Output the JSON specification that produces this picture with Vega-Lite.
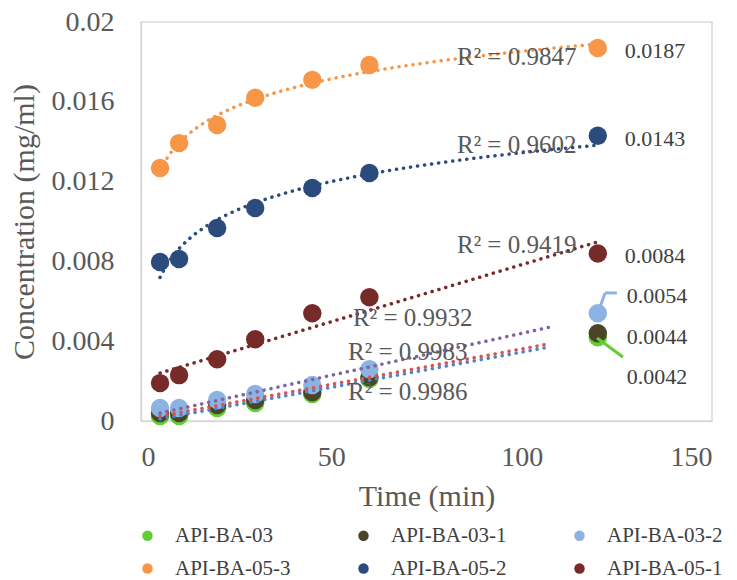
{
  "$schema": "https://vega.github.io/schema/vega-lite/v6.json",
  "width": 571,
  "height": 399,
  "autosize": "none",
  "padding": {"left": 141, "top": 22, "right": 25, "bottom": 159},
  "background": "white",
  "config": {
    "font": "Liberation Serif",
    "view": {"stroke": "#d9d9d9", "strokeWidth": 1.5},
    "axis": {"grid": false, "ticks": false, "domainColor": "#d9d9d9", "domainWidth": 1.5, "labelFont": "Liberation Serif", "titleFont": "Liberation Serif", "labelColor": "#595959", "titleColor": "#595959", "labelFontSize": 28, "titleFontSize": 30, "titleFontWeight": "normal"}
  },
  "datasets": {
    "pts": [
      {"s": "API-BA-03", "t": 5, "c": 0.00025},
      {"s": "API-BA-03", "t": 10, "c": 0.00025},
      {"s": "API-BA-03", "t": 20, "c": 0.00065},
      {"s": "API-BA-03", "t": 30, "c": 0.0009},
      {"s": "API-BA-03", "t": 45, "c": 0.00135},
      {"s": "API-BA-03", "t": 60, "c": 0.0021},
      {"s": "API-BA-03", "t": 120, "c": 0.0042},
      {"s": "API-BA-03-1", "t": 5, "c": 0.0004},
      {"s": "API-BA-03-1", "t": 10, "c": 0.0004},
      {"s": "API-BA-03-1", "t": 20, "c": 0.0008},
      {"s": "API-BA-03-1", "t": 30, "c": 0.00105},
      {"s": "API-BA-03-1", "t": 45, "c": 0.00145},
      {"s": "API-BA-03-1", "t": 60, "c": 0.0022},
      {"s": "API-BA-03-1", "t": 120, "c": 0.0044},
      {"s": "API-BA-03-2", "t": 5, "c": 0.00065},
      {"s": "API-BA-03-2", "t": 10, "c": 0.00065},
      {"s": "API-BA-03-2", "t": 20, "c": 0.00105},
      {"s": "API-BA-03-2", "t": 30, "c": 0.00135},
      {"s": "API-BA-03-2", "t": 45, "c": 0.0018},
      {"s": "API-BA-03-2", "t": 60, "c": 0.0026},
      {"s": "API-BA-03-2", "t": 120, "c": 0.0054},
      {"s": "API-BA-05-3", "t": 5, "c": 0.01268},
      {"s": "API-BA-05-3", "t": 10, "c": 0.01393},
      {"s": "API-BA-05-3", "t": 20, "c": 0.01484},
      {"s": "API-BA-05-3", "t": 30, "c": 0.0162},
      {"s": "API-BA-05-3", "t": 45, "c": 0.0171},
      {"s": "API-BA-05-3", "t": 60, "c": 0.01784},
      {"s": "API-BA-05-3", "t": 120, "c": 0.0187},
      {"s": "API-BA-05-2", "t": 5, "c": 0.00797},
      {"s": "API-BA-05-2", "t": 10, "c": 0.00812},
      {"s": "API-BA-05-2", "t": 20, "c": 0.00967},
      {"s": "API-BA-05-2", "t": 30, "c": 0.01068},
      {"s": "API-BA-05-2", "t": 45, "c": 0.01168},
      {"s": "API-BA-05-2", "t": 60, "c": 0.01243},
      {"s": "API-BA-05-2", "t": 120, "c": 0.0143},
      {"s": "API-BA-05-1", "t": 5, "c": 0.0019},
      {"s": "API-BA-05-1", "t": 10, "c": 0.0023},
      {"s": "API-BA-05-1", "t": 20, "c": 0.0031},
      {"s": "API-BA-05-1", "t": 30, "c": 0.0041},
      {"s": "API-BA-05-1", "t": 45, "c": 0.0054},
      {"s": "API-BA-05-1", "t": 60, "c": 0.0062},
      {"s": "API-BA-05-1", "t": 120, "c": 0.0084}
    ]
  },
  "layer": [
    {
      "data": {"name": "pts"},
      "mark": {"type": "point", "filled": true, "opacity": 1, "shape": "circle"},
      "encoding": {
        "x": {"field": "t", "type": "quantitative", "scale": {"domain": [0, 150], "nice": false}, "axis": {"values": [0, 50, 100, 150], "title": "Time (min)", "labelPadding": 22, "titlePadding": 10}},
        "y": {"field": "c", "type": "quantitative", "scale": {"domain": [0, 0.02], "nice": false}, "axis": {"values": [0, 0.004, 0.008, 0.012, 0.016, 0.02], "format": "~g", "title": "Concentration (mg/ml)", "labelPadding": 27, "titlePadding": 12}},
        "fill": {"field": "s", "type": "nominal", "scale": {"domain": ["API-BA-03", "API-BA-03-1", "API-BA-03-2", "API-BA-05-3", "API-BA-05-2", "API-BA-05-1"], "range": ["#62cc33", "#4a4428", "#8db3e2", "#f79646", "#2a4b7c", "#772b29"]},
          "legend": {"title": null, "orient": "none", "legendX": -4, "legendY": 503, "direction": "horizontal", "columns": 3, "symbolType": "circle", "symbolSize": 110, "symbolStrokeWidth": 0, "labelFont": "Liberation Serif", "labelFontSize": 21, "labelColor": "#404040", "labelOffset": 17, "columnPadding": 62, "rowPadding": 11, "labelLimit": 300}},
        "size": {"value": 340}
      }
    },
    {
      "data": {"name": "pts"},
      "transform": [
        {"filter": "datum.s === 'API-BA-05-3' || datum.s === 'API-BA-05-2'"},
        {"regression": "c", "on": "t", "groupby": ["s"], "method": "log"}
      ],
      "mark": {"type": "line", "strokeDash": [0.1, 7], "strokeCap": "round", "strokeWidth": 3.5},
      "encoding": {
        "x": {"field": "t", "type": "quantitative"},
        "y": {"field": "c", "type": "quantitative"},
        "stroke": {"field": "s", "type": "nominal", "scale": {"domain": ["API-BA-03", "API-BA-03-1", "API-BA-03-2", "API-BA-05-3", "API-BA-05-2", "API-BA-05-1"], "range": ["#4a86d0", "#d9534f", "#8064a2", "#f79646", "#2a4b7c", "#772b29"]}, "legend": null}
      }
    },
    {
      "data": {"name": "pts"},
      "transform": [
        {"filter": "datum.s === 'API-BA-05-1'"},
        {"regression": "c", "on": "t", "groupby": ["s"], "method": "linear"}
      ],
      "mark": {"type": "line", "strokeDash": [0.1, 7], "strokeCap": "round", "strokeWidth": 3.5},
      "encoding": {
        "x": {"field": "t", "type": "quantitative"},
        "y": {"field": "c", "type": "quantitative"},
        "stroke": {"field": "s", "type": "nominal", "legend": null}
      }
    },
    {
      "data": {"name": "pts"},
      "transform": [
        {"filter": "datum.s === 'API-BA-03' || datum.s === 'API-BA-03-1' || datum.s === 'API-BA-03-2'"},
        {"regression": "c", "on": "t", "groupby": ["s"], "method": "linear", "extent": [5, 107]}
      ],
      "mark": {"type": "line", "strokeDash": [0.1, 7], "strokeCap": "round", "strokeWidth": 3.5},
      "encoding": {
        "x": {"field": "t", "type": "quantitative"},
        "y": {"field": "c", "type": "quantitative"},
        "stroke": {"field": "s", "type": "nominal", "legend": null}
      }
    },
    {
      "data": {"values": [
        {"x1": 120.6, "y1": 0.00571, "x2": 121.9, "y2": 0.00642, "col": "#8db3e2"},
        {"x1": 121.9, "y1": 0.00642, "x2": 125.0, "y2": 0.00642, "col": "#8db3e2"},
        {"x1": 119.8, "y1": 0.00416, "x2": 126.6, "y2": 0.00321, "col": "#62cc33"}
      ]},
      "mark": {"type": "rule", "strokeWidth": 3},
      "encoding": {
        "x": {"field": "x1", "type": "quantitative"},
        "y": {"field": "y1", "type": "quantitative"},
        "x2": {"field": "x2"},
        "y2": {"field": "y2"},
        "color": {"field": "col", "type": "nominal", "scale": null}
      }
    },
    {
      "data": {"values": [
        {"x": 83, "y": 0.01825, "txt": "R² = 0.9847"},
        {"x": 83, "y": 0.01383, "txt": "R² = 0.9602"},
        {"x": 83, "y": 0.00882, "txt": "R² = 0.9419"},
        {"x": 55.7, "y": 0.00516, "txt": "R² = 0.9932"},
        {"x": 54.4, "y": 0.00346, "txt": "R² = 0.9983"},
        {"x": 54.4, "y": 0.00145, "txt": "R² = 0.9986"}
      ]},
      "mark": {"type": "text", "align": "left", "baseline": "middle", "font": "Liberation Serif", "fontSize": 25, "color": "#595959"},
      "encoding": {
        "x": {"field": "x", "type": "quantitative"},
        "y": {"field": "y", "type": "quantitative"},
        "text": {"field": "txt"}
      }
    },
    {
      "data": {"values": [
        {"x": 127.1, "y": 0.01857, "txt": "0.0187"},
        {"x": 127.1, "y": 0.01413, "txt": "0.0143"},
        {"x": 127.1, "y": 0.00827, "txt": "0.0084"},
        {"x": 127.6, "y": 0.00627, "txt": "0.0054"},
        {"x": 127.6, "y": 0.00421, "txt": "0.0044"},
        {"x": 127.6, "y": 0.00221, "txt": "0.0042"}
      ]},
      "mark": {"type": "text", "align": "left", "baseline": "middle", "font": "Liberation Serif", "fontSize": 22, "color": "#404040"},
      "encoding": {
        "x": {"field": "x", "type": "quantitative"},
        "y": {"field": "y", "type": "quantitative"},
        "text": {"field": "txt"}
      }
    }
  ]
}
